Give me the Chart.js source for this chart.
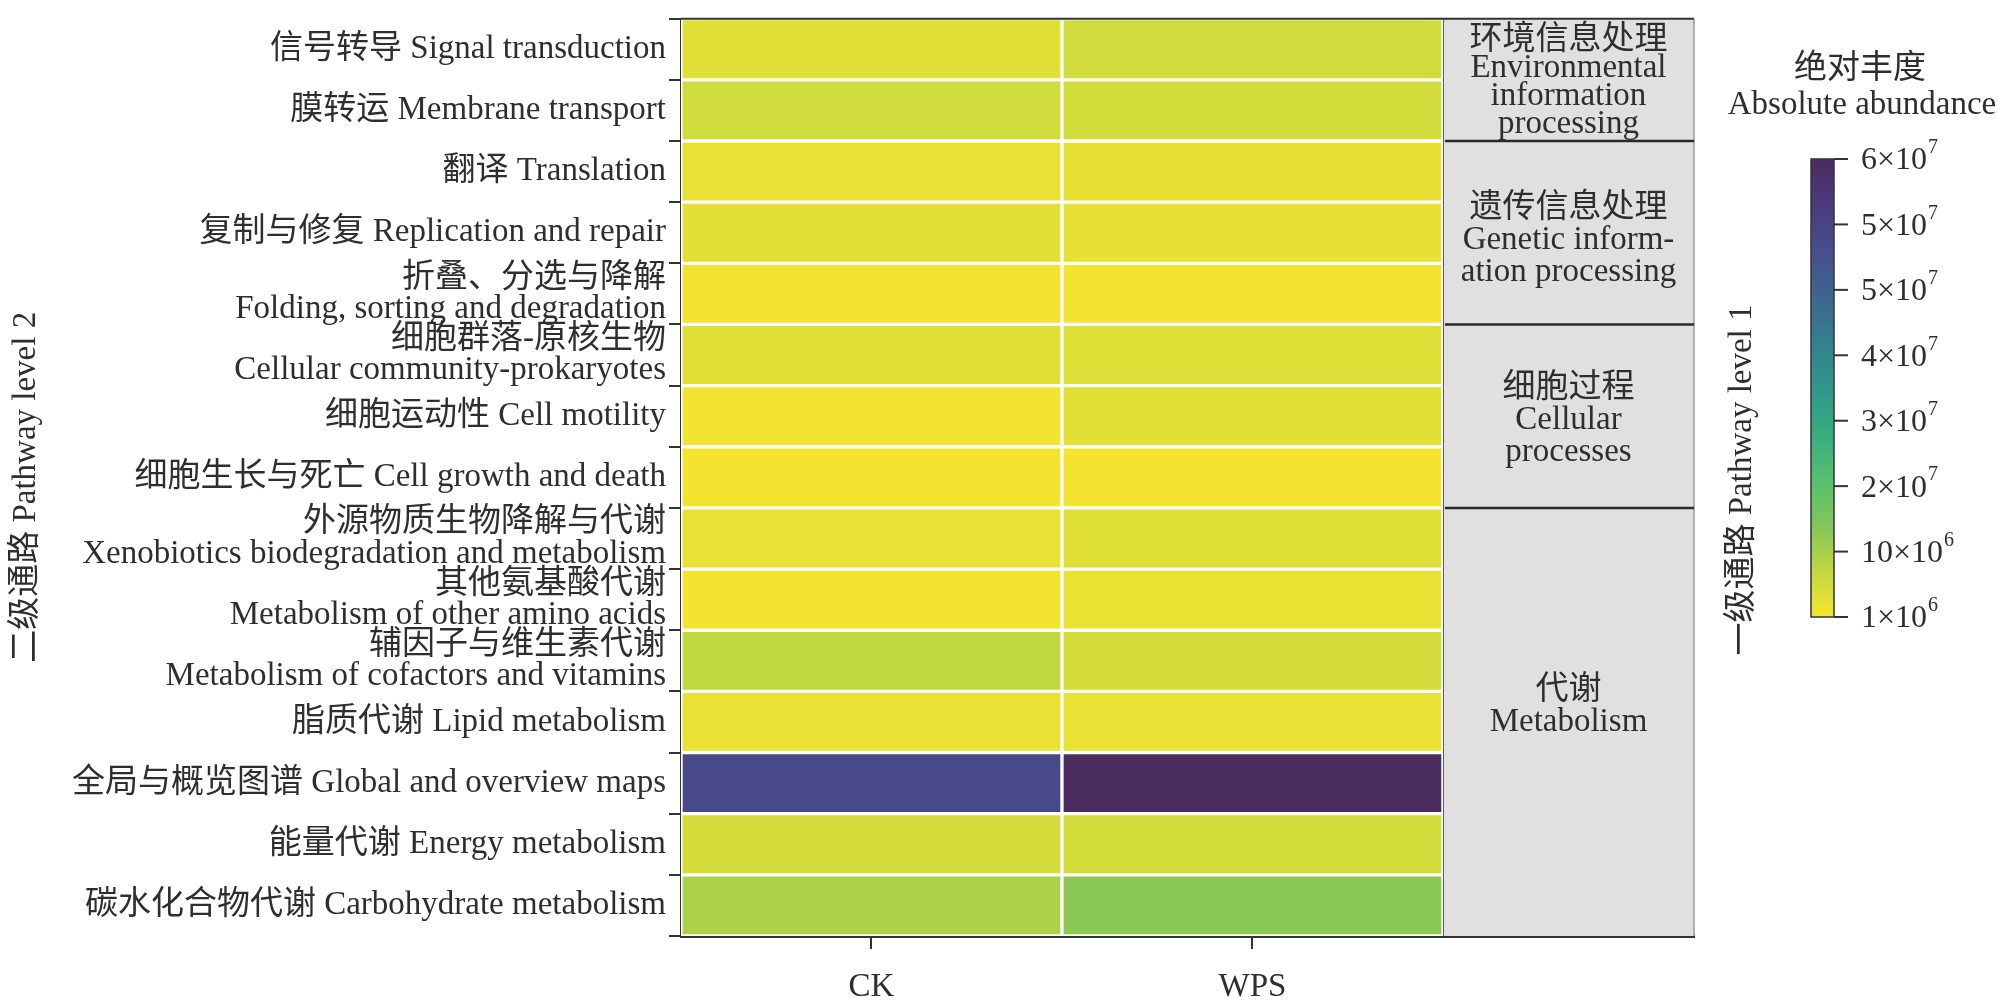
<!DOCTYPE html>
<html><head><meta charset="utf-8">
<script src="https://cdn.jsdelivr.net/npm/chart.js@4.4.1/dist/chart.umd.min.js"></script>
<style>html,body{margin:0;padding:0;background:#fff;overflow:hidden}#wrap{width:1997px;height:1006px}</style>
</head><body><div id="wrap"><canvas id="c" width="1997" height="1006"></canvas></div>
<script>
// ---------- data ----------
const pathways = [
  '信号转导 Signal transduction',
  '膜转运 Membrane transport',
  '翻译 Translation',
  '复制与修复 Replication and repair',
  ['折叠、分选与降解', 'Folding, sorting and degradation'],
  ['细胞群落-原核生物', 'Cellular community-prokaryotes'],
  '细胞运动性 Cell motility',
  '细胞生长与死亡 Cell growth and death',
  ['外源物质生物降解与代谢', 'Xenobiotics biodegradation and metabolism'],
  ['其他氨基酸代谢', 'Metabolism of other amino acids'],
  ['辅因子与维生素代谢', 'Metabolism of cofactors and vitamins'],
  '脂质代谢 Lipid metabolism',
  '全局与概览图谱 Global and overview maps',
  '能量代谢 Energy metabolism',
  '碳水化合物代谢 Carbohydrate metabolism'
];
const samples = ['CK', 'WPS'];
const ckValues  = [3.6e6, 5.2e6, 2.6e6, 3.3e6, 1.7e6, 3.6e6, 1.6e6, 1.5e6, 2.6e6, 1.5e6, 6.7e6, 2.6e6, 5.0e7, 4.9e6, 8.9e6];
const wpsValues = [5.2e6, 5.0e6, 2.8e6, 2.9e6, 1.6e6, 3.7e6, 3.4e6, 1.3e6, 3.8e6, 2.5e6, 4.9e6, 2.6e6, 6.0e7, 5.1e6, 1.2e7];
const level1Labels = [
  ['环境信息处理', 'Environmental', 'information', 'processing'],
  ['遗传信息处理', 'Genetic inform-', 'ation processing'],
  ['细胞过程', 'Cellular', 'processes'],
  ['代谢', 'Metabolism']
];
const level1FirstRow = [0, 2, 5, 8];
const level1LastRow  = [1, 4, 7, 14];
const cbMantissa = ['1', '10', '2', '3', '4', '5', '5', '6'];
const cbExponent = ['6', '6', '7', '7', '7', '7', '7', '7'];
const cbMin = 1e6, cbMax = 6e7;

// ---------- colours (muted viridis as printed) ----------
const palette = ['#4a2c5e','#4b3a7e','#474f8c','#3d6690','#33808e','#2f978b','#36ad80','#56c06f','#82c65a','#c0d840','#f8e52e'];
function hex2rgb(h){return [parseInt(h.substr(1,2),16),parseInt(h.substr(3,2),16),parseInt(h.substr(5,2),16)];}
function rgbStr(c){return 'rgb('+c.map(Math.round).join(',')+')';}
function paletteAt(t){
  t=Math.max(0,Math.min(1,t));
  const p=t*10, i=Math.min(9,Math.floor(p)), f=p-i;
  const a=hex2rgb(palette[i]), b=hex2rgb(palette[i+1]);
  return a.map((x,k)=>x+(b[k]-x)*f);
}
function colorFor(v){ return rgbStr(paletteAt(1-(v-cbMin)/(cbMax-cbMin))); }

const FONT = "'Liberation Serif','Times New Roman',Tinos,'Noto Sans CJK SC',serif";
const TXT = '#2e2e2e';
const panelUnits = 0.659;

const decor = {
  id:'decor',
  beforeDatasetsDraw(chart){
    const {ctx, chartArea:ca, scales:{x}} = chart;
    const x2 = x.getPixelForValue(2);
    ctx.save();
    ctx.fillStyle = '#e0e0e0';
    ctx.fillRect(x2, ca.top, ca.right-x2, ca.bottom-ca.top);
    ctx.restore();
  },
  afterDatasetsDraw(chart){
    const {ctx, chartArea:ca, scales:{x,y}} = chart;
    const x2 = x.getPixelForValue(2);
    ctx.save();
    ctx.strokeStyle='#555'; ctx.lineWidth=1;
    ctx.beginPath(); ctx.moveTo(x2+0.5, ca.top); ctx.lineTo(x2+0.5, ca.bottom); ctx.stroke();
    ctx.strokeStyle='#9a9a9a'; ctx.lineWidth=1.5;
    ctx.beginPath(); ctx.moveTo(ca.right, ca.top); ctx.lineTo(ca.right, ca.bottom); ctx.stroke();
    ctx.strokeStyle='#333'; ctx.lineWidth=2;
    ctx.beginPath(); ctx.moveTo(ca.left, ca.top); ctx.lineTo(ca.right, ca.top); ctx.stroke();
    ctx.fillStyle=TXT; ctx.textAlign='center'; ctx.textBaseline='middle';
    ctx.font = '33px '+FONT;
    const cx = (x2+ca.right)/2;
    const shift = [2, 8, 4, -16];
    level1Labels.forEach((lines,g)=>{
      const yt = y.getPixelForValue(level1FirstRow[g]-0.5);
      const yb = y.getPixelForValue(level1LastRow[g]+0.5);
      if(g>0){
        ctx.strokeStyle='#2a2a2a'; ctx.lineWidth=2.5;
        ctx.beginPath(); ctx.moveTo(x2+2, yt); ctx.lineTo(ca.right, yt); ctx.stroke();
      }
      const lh = lines.length>3 ? 28 : 32;
      const yc = (yt+yb)/2 + shift[g];
      lines.forEach((s,i)=>{
        ctx.fillText(s, cx, yc + (i-(lines.length-1)/2)*lh);
      });
    });
    ctx.restore();
  },
  afterDraw(chart){
    const ctx = chart.ctx;
    const ca = chart.chartArea;
    ctx.save();
    ctx.fillStyle=TXT; ctx.textAlign='center'; ctx.textBaseline='middle';
    ctx.font='33px '+FONT;
    // left axis title
    ctx.save();
    ctx.translate(26, (ca.top+ca.bottom)/2 + 10); ctx.rotate(-Math.PI/2);
    ctx.fillText('二级通路 Pathway level 2', 0, 0);
    ctx.restore();
    // legend title
    ctx.fillText('绝对丰度', 1860, 69);
    ctx.fillText('Absolute abundance', 1862, 105);
    // right axis title
    ctx.save();
    ctx.translate(1742, 480); ctx.rotate(-Math.PI/2);
    ctx.fillText('一级通路 Pathway level 1', 0, 0);
    ctx.restore();
    // colour bar
    const bx=1811, bw=23, bt=159, bb=617;
    const grad = ctx.createLinearGradient(0, bt, 0, bb);
    palette.forEach((h,k)=>grad.addColorStop(k/10, h));
    ctx.fillStyle=grad; ctx.fillRect(bx, bt, bw, bb-bt);
    ctx.strokeStyle='#333'; ctx.lineWidth=1.5; ctx.strokeRect(bx, bt, bw, bb-bt);
    const n = cbMantissa.length;
    ctx.textAlign='left';
    for(let i=0;i<n;i++){
      const ty = bb - i*(bb-bt)/(n-1);
      ctx.strokeStyle='#333'; ctx.lineWidth=2;
      ctx.beginPath(); ctx.moveTo(bx+bw, ty); ctx.lineTo(bx+bw+14, ty); ctx.stroke();
      ctx.font='32px '+FONT; ctx.fillStyle=TXT; ctx.textBaseline='middle';
      const base = cbMantissa[i]+'×10';
      ctx.fillText(base, 1861, ty+2);
      const w = ctx.measureText(base).width;
      ctx.font='20px '+FONT;
      ctx.fillText(cbExponent[i], 1861+w+1, ty-11);
    }
    ctx.restore();
  }
};

new Chart(document.getElementById('c'), {
  type:'bar',
  data:{
    labels: pathways,
    datasets:[
      {label:samples[0], data: ckValues.map(()=>[0,1]), backgroundColor: ckValues.map(colorFor),
       borderColor:'#ffffff', borderWidth:2, borderSkipped:false, barPercentage:1, categoryPercentage:1, grouped:false},
      {label:samples[1], data: wpsValues.map(()=>[1,2]), backgroundColor: wpsValues.map(colorFor),
       borderColor:'#ffffff', borderWidth:2, borderSkipped:false, barPercentage:1, categoryPercentage:1, grouped:false}
    ]
  },
  options:{
    indexAxis:'y', responsive:false, animation:false, devicePixelRatio:1,
    layout:{padding:{left:0,right:303,top:10,bottom:0}},
    plugins:{legend:{display:false}, tooltip:{enabled:false}},
    scales:{
      x:{type:'linear', min:0, max:2+panelUnits, z:1,
         afterBuildTicks:s=>{s.ticks=[{value:0.5},{value:1.5}];},
         afterFit:s=>{s.height=70;},
         ticks:{callback:v=>samples[Math.floor(v)], font:{family:FONT,size:33}, color:TXT, padding:19, maxRotation:0, autoSkip:false},
         grid:{drawOnChartArea:false, drawTicks:true, tickLength:13, color:'#333', lineWidth:2},
         border:{display:true, color:'#333', width:3}},
      y:{type:'category', offset:true, z:1,
         afterFit:s=>{s.width=681;},
         ticks:{font:{family:FONT,size:33,lineHeight:0.95}, color:TXT, padding:3, autoSkip:false},
         grid:{drawOnChartArea:false, drawTicks:true, tickLength:12, color:'#333', lineWidth:2},
         border:{display:true, color:'#333', width:2},
         title:{display:false}}
    }
  },
  plugins:[decor]
});
</script></body></html>
